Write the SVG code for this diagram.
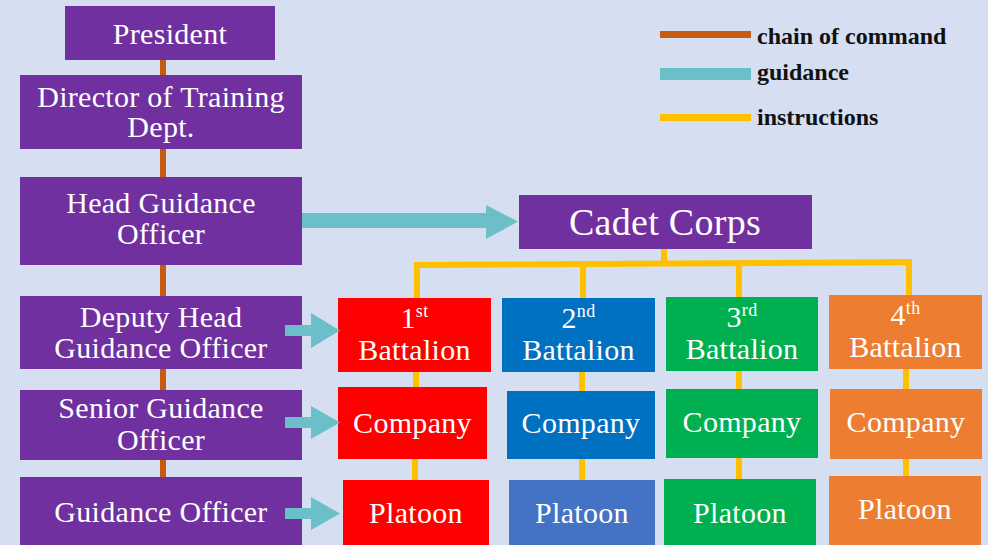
<svg xmlns="http://www.w3.org/2000/svg" width="988" height="545" viewBox="0 0 988 545">
<style>
.bg{fill:#D6DEF1}
.p{fill:#7030A0}
.red{fill:#FF0000}
.blue{fill:#0070C0}
.lblue{fill:#4472C4}
.green{fill:#00B050}
.orange{fill:#ED7D31}
.t{font-family:"Liberation Serif","Times New Roman",serif;font-size:30px;fill:#FFFFFF;text-anchor:middle;letter-spacing:0.3px}
.sup{font-size:18px}
.cmd{stroke:#C55A11;stroke-width:6;fill:none}
.ins{stroke:#FFC000;stroke-width:6;fill:none}
.gd{fill:#6BBFC9}
.lg{font-family:"Liberation Serif","Times New Roman",serif;font-size:24px;font-weight:bold;fill:#111111}
</style>
<rect class="bg" x="0" y="0" width="988" height="545"/>

<g id="legend">
  <rect x="660" y="31" width="91" height="7" fill="#C55A11"/>
  <rect x="660" y="68" width="91" height="12" fill="#6BBFC9"/>
  <rect x="660" y="114" width="91" height="7" fill="#FFC000"/>
  <text class="lg" x="757" y="44">chain of command</text>
  <text class="lg" x="757" y="80">guidance</text>
  <text class="lg" x="757" y="125">instructions</text>
</g>

<g id="president"><rect class="p" x="65" y="6" width="210" height="54"/><text class="t" x="170" y="44">President</text></g>
<g id="director"><rect class="p" x="20" y="75" width="282" height="74"/><text class="t" x="161" y="107">Director of Training</text><text class="t" x="161" y="137">Dept.</text></g>
<g id="head-guidance"><rect class="p" x="20" y="177" width="282" height="88"/><text class="t" x="161" y="213">Head Guidance</text><text class="t" x="161" y="244">Officer</text></g>
<g id="deputy-head"><rect class="p" x="20" y="296" width="282" height="73"/><text class="t" x="161" y="327">Deputy Head</text><text class="t" x="161" y="358">Guidance Officer</text></g>
<g id="senior-guidance"><rect class="p" x="20" y="390" width="282" height="70"/><text class="t" x="161" y="418">Senior Guidance</text><text class="t" x="161" y="450">Officer</text></g>
<g id="guidance-officer"><rect class="p" x="20" y="477" width="282" height="70"/><text class="t" x="161" y="522">Guidance Officer</text></g>

<g id="cadet-corps"><rect class="p" x="519" y="195" width="293" height="54"/><text class="t" x="665" y="235" style="font-size:38px">Cadet Corps</text></g>

<g id="battalion-1"><rect class="red" x="338" y="298" width="153" height="74"/><text class="t" x="414.5" y="328">1<tspan class="sup" dy="-11">st</tspan></text><text class="t" x="414.5" y="360">Battalion</text></g>
<g id="battalion-2"><rect class="blue" x="502" y="298" width="153" height="74"/><text class="t" x="578.5" y="328">2<tspan class="sup" dy="-11">nd</tspan></text><text class="t" x="578.5" y="360">Battalion</text></g>
<g id="battalion-3"><rect class="green" x="666" y="297" width="152" height="74"/><text class="t" x="742" y="327">3<tspan class="sup" dy="-11">rd</tspan></text><text class="t" x="742" y="359">Battalion</text></g>
<g id="battalion-4"><rect class="orange" x="829" y="295" width="153" height="74"/><text class="t" x="905.5" y="325">4<tspan class="sup" dy="-11">th</tspan></text><text class="t" x="905.5" y="357">Battalion</text></g>

<g id="company-1"><rect class="red" x="338" y="387" width="149" height="72"/><text class="t" x="412.5" y="433">Company</text></g>
<g id="company-2"><rect class="blue" x="507" y="391" width="148" height="68"/><text class="t" x="581" y="433">Company</text></g>
<g id="company-3"><rect class="green" x="666" y="389" width="152" height="69"/><text class="t" x="742" y="432">Company</text></g>
<g id="company-4"><rect class="orange" x="830" y="389" width="152" height="70"/><text class="t" x="906" y="432">Company</text></g>

<g id="platoon-1"><rect class="red" x="343" y="480" width="146" height="67"/><text class="t" x="416" y="523">Platoon</text></g>
<g id="platoon-2"><rect class="lblue" x="509" y="480" width="146" height="67"/><text class="t" x="582" y="523">Platoon</text></g>
<g id="platoon-3"><rect class="green" x="664" y="479" width="152" height="68"/><text class="t" x="740" y="523">Platoon</text></g>
<g id="platoon-4"><rect class="orange" x="829" y="476" width="152" height="71"/><text class="t" x="905" y="519">Platoon</text></g>

<g id="connectors">
  <line class="cmd" x1="163" y1="60" x2="163" y2="75"/>
  <line class="cmd" x1="163" y1="149" x2="163" y2="177"/>
  <line class="cmd" x1="163" y1="265" x2="163" y2="296"/>
  <line class="cmd" x1="163" y1="369" x2="163" y2="390"/>
  <line class="cmd" x1="163" y1="460" x2="163" y2="477"/>
  <polyline class="ins" points="664,249 664,264"/>
  <polyline class="ins" points="417,298 417,265 909,262 909,295"/>
  <line class="ins" x1="583" y1="264" x2="583" y2="298"/>
  <line class="ins" x1="739" y1="263" x2="739" y2="297"/>
  <line class="ins" x1="416" y1="372" x2="416" y2="387"/>
  <line class="ins" x1="415" y1="459" x2="415" y2="480"/>
  <line class="ins" x1="582" y1="372" x2="582" y2="391"/>
  <line class="ins" x1="582" y1="459" x2="582" y2="480"/>
  <line class="ins" x1="739" y1="371" x2="739" y2="389"/>
  <line class="ins" x1="739" y1="458" x2="739" y2="479"/>
  <line class="ins" x1="906" y1="369" x2="906" y2="389"/>
  <line class="ins" x1="906" y1="459" x2="906" y2="476"/>
  <polygon class="gd" points="302,213 486,213 486,205 518,221.5 486,239 486,228 302,228"/>
  <polygon class="gd" points="285,325 311,325 311,313 340,330.5 311,348 311,336 285,336"/>
  <polygon class="gd" points="285,417 311,417 311,406 340,422.5 311,439 311,428 285,428"/>
  <polygon class="gd" points="285,508 311,508 311,497 340,513.5 311,530 311,519 285,519"/>
</g>
</svg>
